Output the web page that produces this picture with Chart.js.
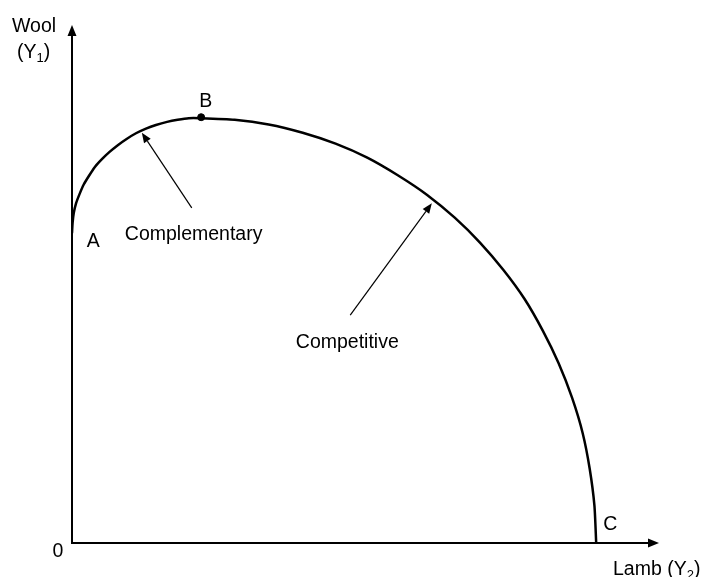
<!DOCTYPE html>
<html>
<head>
<meta charset="utf-8">
<script src="https://cdn.jsdelivr.net/npm/chart.js@4/dist/chart.umd.min.js"></script>
<style>
  html, body { margin: 0; padding: 0; background: #fff; }
  #wrap { width: 702px; height: 577px; position: relative; }
</style>
</head>
<body>
<div id="wrap"><canvas id="c" width="702" height="577"></canvas></div>
<script>
// Production possibility curve (Lamb on x, Wool on y)
const curveX = [0, 0.01, 0.03, 0.07, 0.13, 0.20, 0.29, 0.39, 0.51, 0.64, 0.78, 0.93, 1.09, 1.26, 1.43, 1.62, 1.80, 1.99, 2.18,
                2.77, 3.35, 3.93, 4.49, 5.03, 5.55, 6.05, 6.52, 6.95, 7.35, 7.71, 8.02, 8.29, 8.52, 8.70, 8.82, 8.90, 8.93];
const curveY = [5.98, 6.18, 6.37, 6.56, 6.74, 6.92, 7.09, 7.26, 7.41, 7.55, 7.68, 7.80, 7.91, 8.00, 8.07, 8.13, 8.17, 8.20, 8.20,
                8.17, 8.08, 7.92, 7.71, 7.44, 7.10, 6.72, 6.28, 5.80, 5.27, 4.71, 4.10, 3.47, 2.80, 2.12, 1.43, 0.72, 0];
const pointB = { x: 2.20, y: 8.22 };
const xMax = 10, yMax = 10;

const pointLabels = ["A", "B", "C"];
const pointLabelX = [0.36, 2.28, 9.17];
const pointLabelY = [5.72, 8.42, 0.25];

const arrowNames = ["Complementary", "Competitive"];
const arrowTailX = [2.04, 4.74];
const arrowTailY = [6.47, 4.40];
const arrowTipX = [1.19, 6.13];
const arrowTipY = [7.92, 6.56];
const arrowTextX = [0.90, 4.69];
const arrowTextY = [5.85, 3.76];
const arrowTextAlign = ["left", "center"];

const FONT = '"Liberation Sans", Arial, sans-serif';
const SIZE = 19.5;

const pts = curveX.map((x, i) => ({ x: x, y: curveY[i] }));

function drawSub(ctx, x, y, parts) {
  let cx = x;
  for (const [t, sub] of parts) {
    ctx.font = (sub ? 13 : SIZE) + 'px ' + FONT;
    ctx.fillText(t, cx, sub ? y + 4 : y);
    cx += ctx.measureText(t).width;
  }
}

const overlay = {
  id: 'overlay',
  afterDatasetsDraw(chart) {
    const ctx = chart.ctx;
    const xs = chart.scales.x, ys = chart.scales.y;
    const px = v => xs.getPixelForValue(v);
    const py = v => ys.getPixelForValue(v);
    const x0 = px(0), y0 = py(0), xE = px(xMax), yE = py(yMax);
    ctx.save();
    ctx.strokeStyle = '#000';
    ctx.fillStyle = '#000';
    // axes
    ctx.lineWidth = 2;
    ctx.beginPath();
    ctx.moveTo(x0, yE + 8);
    ctx.lineTo(x0, y0);
    ctx.lineTo(xE - 8, y0);
    ctx.stroke();
    // axis arrowheads
    ctx.beginPath();
    ctx.moveTo(x0, yE); ctx.lineTo(x0 - 4.5, yE + 11); ctx.lineTo(x0 + 4.5, yE + 11); ctx.closePath(); ctx.fill();
    ctx.beginPath();
    ctx.moveTo(xE, y0); ctx.lineTo(xE - 11, y0 - 4.5); ctx.lineTo(xE - 11, y0 + 4.5); ctx.closePath(); ctx.fill();

    // annotation arrows
    ctx.lineWidth = 1.2;
    for (let i = 0; i < arrowNames.length; i++) {
      const tx = px(arrowTailX[i]), ty = py(arrowTailY[i]);
      const hx = px(arrowTipX[i]), hy = py(arrowTipY[i]);
      const ang = Math.atan2(hy - ty, hx - tx);
      const L = 10, W = 4;
      const bx = hx - L * Math.cos(ang), by = hy - L * Math.sin(ang);
      ctx.beginPath();
      ctx.moveTo(tx, ty); ctx.lineTo(bx, by); ctx.stroke();
      ctx.beginPath();
      ctx.moveTo(hx, hy);
      ctx.lineTo(bx + W * Math.sin(ang), by - W * Math.cos(ang));
      ctx.lineTo(bx - W * Math.sin(ang), by + W * Math.cos(ang));
      ctx.closePath(); ctx.fill();
      ctx.font = SIZE + 'px ' + FONT;
      ctx.textAlign = arrowTextAlign[i];
      ctx.textBaseline = 'alphabetic';
      ctx.fillText(arrowNames[i], px(arrowTextX[i]), py(arrowTextY[i]));
    }

    // point labels
    ctx.font = SIZE + 'px ' + FONT;
    ctx.textAlign = 'center';
    ctx.textBaseline = 'alphabetic';
    for (let i = 0; i < pointLabels.length; i++) {
      ctx.fillText(pointLabels[i], px(pointLabelX[i]), py(pointLabelY[i]));
    }
    // origin
    ctx.fillText('0', x0 - 14, y0 + 14);

    // axis titles
    ctx.textAlign = 'left';
    ctx.fillText('Wool', 12, yE + 7);
    drawSub(ctx, 17, yE + 33, [['(', false], ['Y', false], ['1', true], [')', false]]);
    drawSub(ctx, 613, y0 + 32, [['Lamb (', false], ['Y', false], ['2', true], [')', false]]);
    ctx.restore();
  }
};

new Chart(document.getElementById('c'), {
  type: 'scatter',
  data: {
    datasets: [
      {
        data: pts,
        showLine: true,
        borderColor: '#000',
        borderWidth: 2.5,
        pointRadius: 0,
        tension: 0.2,
        fill: false
      },
      {
        data: [pointB],
        pointRadius: 3.5,
        pointBackgroundColor: '#000',
        pointBorderColor: '#000',
        showLine: false
      }
    ]
  },
  options: {
    responsive: false,
    animation: false,
    layout: { padding: { left: 72, right: 43, top: 25, bottom: 34 } },
    plugins: { legend: { display: false }, tooltip: { enabled: false } },
    scales: {
      x: { type: 'linear', min: 0, max: xMax, display: false },
      y: { type: 'linear', min: 0, max: yMax, display: false }
    }
  },
  plugins: [overlay]
});
</script>
</body>
</html>
